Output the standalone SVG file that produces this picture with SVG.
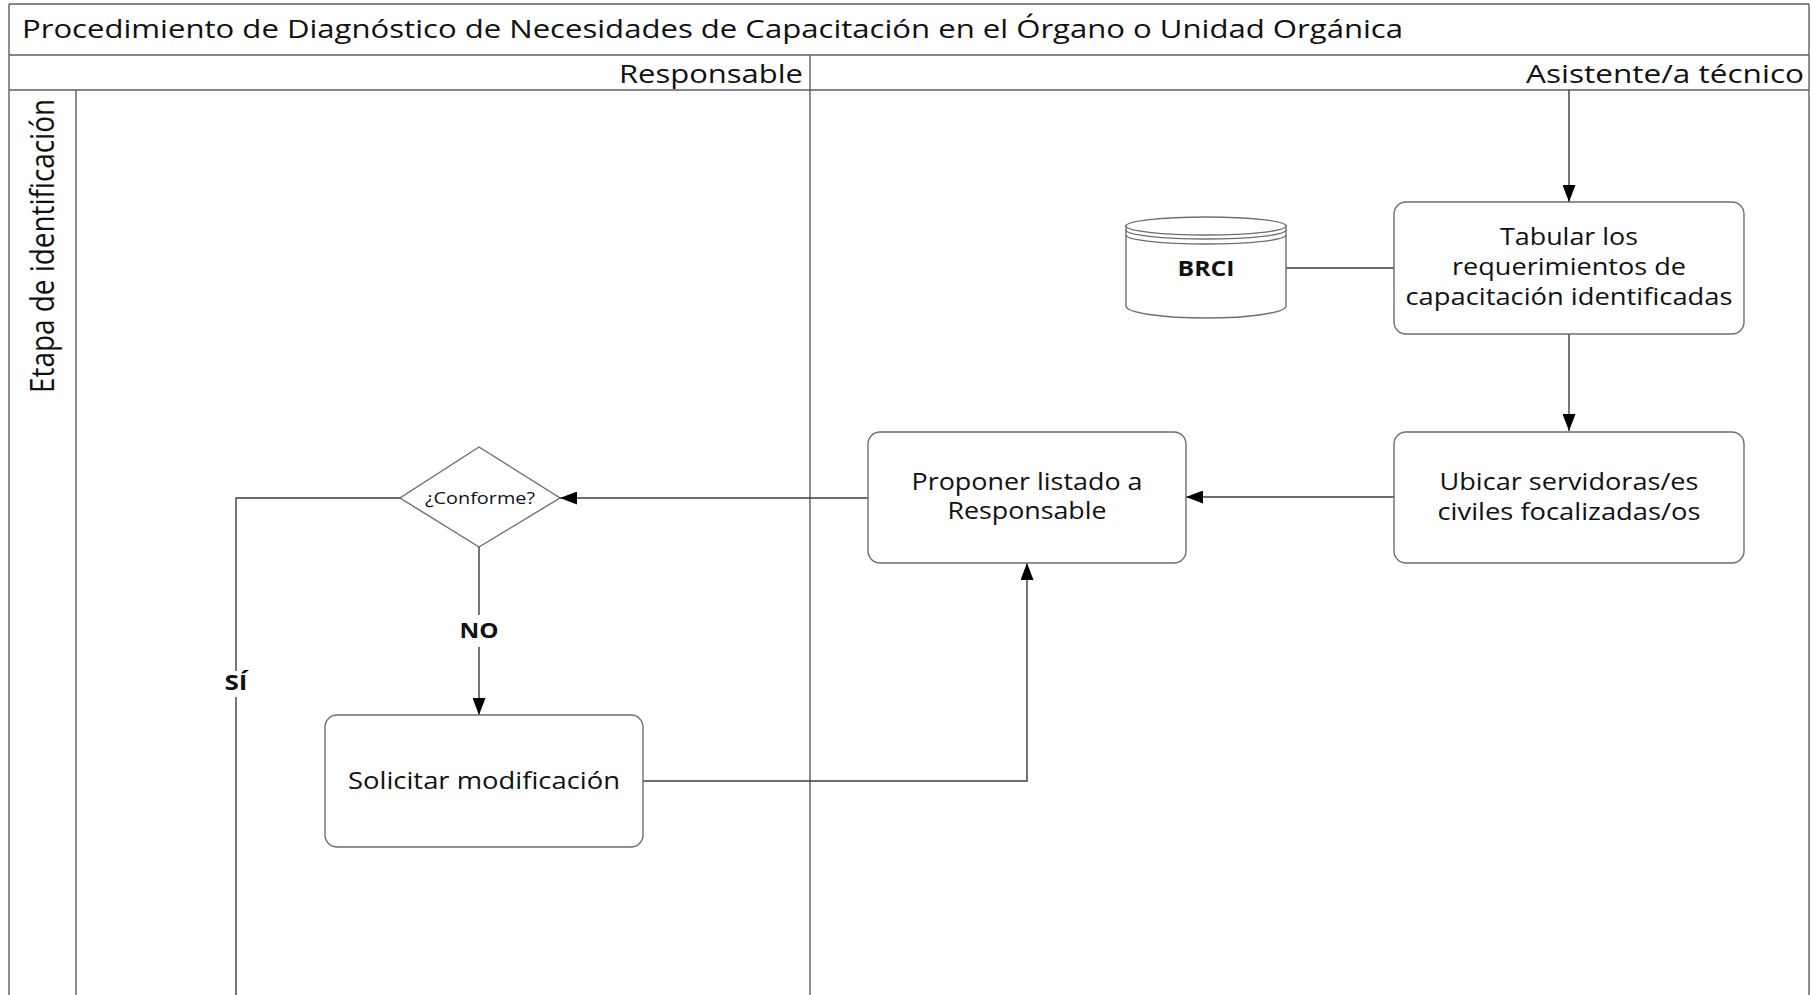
<svg xmlns="http://www.w3.org/2000/svg" width="1811" height="995" viewBox="0 0 1811 995">
  <style>
    .frame { stroke: #5e5e5e; stroke-width: 1.4; fill: none; }
    .box { fill: #ffffff; stroke: #6e6e6e; stroke-width: 1.4; }
    .conn { stroke: #3c3c3c; stroke-width: 1.4; fill: none; }
    .txt { font-family: "Open Sans", "Noto Sans", sans-serif; fill: #111111; }
    .node { font-size: 23px; text-anchor: middle; }
    .hdr { font-size: 25px; }
    .lbl { font-family: "Open Sans", "Noto Sans", sans-serif; font-weight: bold; fill: #111111; text-anchor: middle; }
  </style>
  <defs>
    <marker id="arrow" viewBox="0 0 17 13" refX="17" refY="6.5" markerWidth="17" markerHeight="13" markerUnits="userSpaceOnUse" orient="auto">
      <path d="M0,0 L17,6.5 L0,13 Z" fill="#000000"/>
    </marker>
  </defs>

  <rect x="0" y="0" width="1811" height="995" fill="#ffffff"/>

  <!-- pool frame, lanes and phase column -->
  <g id="pool">
    <line class="frame" x1="9" y1="4" x2="1809" y2="4"/>
    <line class="frame" x1="9" y1="55" x2="1809" y2="55"/>
    <line class="frame" x1="9" y1="90" x2="1809" y2="90"/>
    <line class="frame" x1="9" y1="4" x2="9" y2="995"/>
    <line class="frame" x1="1809" y1="4" x2="1809" y2="995"/>
    <line class="frame" x1="76" y1="90" x2="76" y2="995"/>
    <line class="frame" x1="810" y1="55" x2="810" y2="995"/>
    <text class="txt hdr" x="22" y="38" textLength="1381" lengthAdjust="spacingAndGlyphs">Procedimiento de Diagnóstico de Necesidades de Capacitación en el Órgano o Unidad Orgánica</text>
    <text class="txt hdr" x="803" y="83" text-anchor="end" textLength="184" lengthAdjust="spacingAndGlyphs">Responsable</text>
    <text class="txt hdr" x="1804" y="83" text-anchor="end" textLength="278" lengthAdjust="spacingAndGlyphs">Asistente/a técnico</text>
    <text class="txt" font-size="32" x="0" y="0" text-anchor="middle" textLength="294" lengthAdjust="spacingAndGlyphs" transform="translate(54,246) rotate(-90)">Etapa de identificación</text>
  </g>

  <!-- connectors -->
  <g id="connectors">
    <path class="conn" d="M1569,90 V202" marker-end="url(#arrow)"/>
    <path class="conn" d="M1569,334 V431" marker-end="url(#arrow)"/>
    <path class="conn" d="M1286,268 H1394"/>
    <path class="conn" d="M1394,497 H1186" marker-end="url(#arrow)"/>
    <path class="conn" d="M868,498 H560" marker-end="url(#arrow)"/>
    <path class="conn" d="M479,547 V615"/>
    <path class="conn" d="M479,647 V715" marker-end="url(#arrow)"/>
    <path class="conn" d="M643,781 H1027 V563" marker-end="url(#arrow)"/>
    <path class="conn" d="M400,498 H236 V671"/>
    <path class="conn" d="M236,697 V995"/>
    <text class="lbl" font-size="21" x="479" y="638" textLength="39" lengthAdjust="spacingAndGlyphs">NO</text>
    <text class="lbl" font-size="21" x="236" y="690" textLength="23" lengthAdjust="spacingAndGlyphs">SÍ</text>
  </g>

  <g id="tabular">
    <rect class="box" x="1394" y="202" width="350" height="132" rx="12"/>
    <text class="txt node" x="1569" y="245" textLength="138" lengthAdjust="spacingAndGlyphs">Tabular los</text>
    <text class="txt node" x="1569" y="275" textLength="234" lengthAdjust="spacingAndGlyphs">requerimientos de</text>
    <text class="txt node" x="1569" y="305" textLength="327" lengthAdjust="spacingAndGlyphs">capacitación identificadas</text>
  </g>

  <g id="brci">
    <path class="box" d="M1126,226 V306 A80,12 0 0 0 1286,306 V226 Z"/>
    <ellipse class="box" cx="1206" cy="226" rx="80" ry="9"/>
    <path class="conn" style="stroke:#6e6e6e" d="M1126,230 A80,9 0 0 0 1286,230"/>
    <path class="conn" style="stroke:#6e6e6e" d="M1126,235 A80,9 0 0 0 1286,235"/>
    <text class="lbl" font-size="22" x="1206" y="276" textLength="57" lengthAdjust="spacingAndGlyphs">BRCI</text>
  </g>

  <g id="ubicar">
    <rect class="box" x="1394" y="432" width="350" height="131" rx="12"/>
    <text class="txt node" x="1569" y="490" textLength="259" lengthAdjust="spacingAndGlyphs">Ubicar servidoras/es</text>
    <text class="txt node" x="1569" y="520" textLength="263" lengthAdjust="spacingAndGlyphs">civiles focalizadas/os</text>
  </g>

  <g id="proponer">
    <rect class="box" x="868" y="432" width="318" height="131" rx="12"/>
    <text class="txt node" x="1027" y="490" textLength="231" lengthAdjust="spacingAndGlyphs">Proponer listado a</text>
    <text class="txt node" x="1027" y="519" textLength="159" lengthAdjust="spacingAndGlyphs">Responsable</text>
  </g>

  <g id="conforme">
    <polygon class="box" points="479,447 560,498 479,547 400,498"/>
    <text class="txt" font-size="17" x="480" y="504" text-anchor="middle" textLength="110" lengthAdjust="spacingAndGlyphs">¿Conforme?</text>
  </g>

  <g id="solicitar">
    <rect class="box" x="325" y="715" width="318" height="132" rx="12"/>
    <text class="txt node" x="484" y="789" textLength="272" lengthAdjust="spacingAndGlyphs">Solicitar modificación</text>
  </g>
</svg>
